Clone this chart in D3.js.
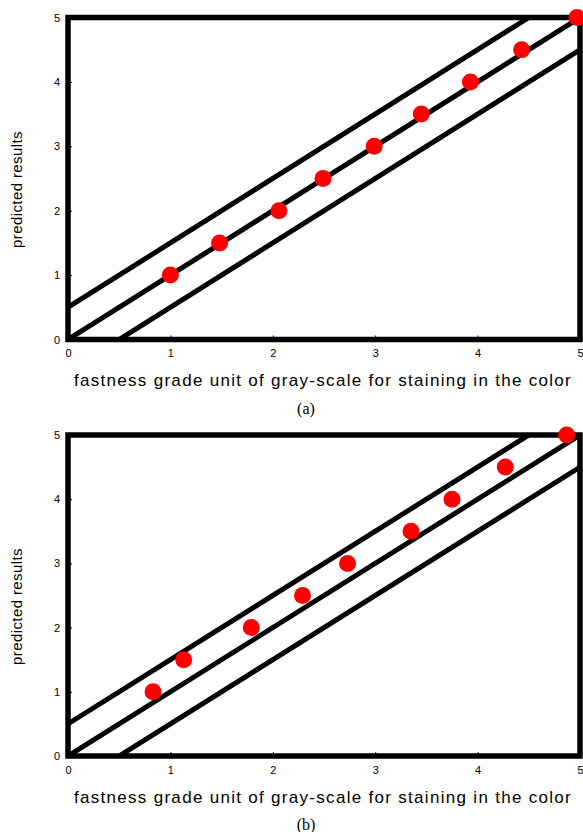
<!DOCTYPE html>
<html>
<head>
<meta charset="utf-8">
<script src="https://cdn.jsdelivr.net/npm/d3@7"></script>
<style>
  body { margin: 0; background: #fff; }
  .tick text { font-family: "Liberation Sans", Arial, sans-serif; font-size: 11px; fill: #000; }
</style>
</head>
<body>
<div id="chart"></div>
<script>
// Data
const measuredA = [1.0, 1.48, 2.06, 2.49, 2.99, 3.45, 3.93, 4.43, 4.97];
const predictedA = [1, 1.5, 2, 2.5, 3, 3.5, 4, 4.5, 5];
const measuredB = [0.83, 1.13, 1.79, 2.29, 2.73, 3.35, 3.75, 4.27, 4.87];
const predictedB = [1, 1.5, 2, 2.5, 3, 3.5, 4, 4.5, 5];
const tickValues = [0, 1, 2, 3, 4, 5];
// reference band: y = x + offset
const bandOffsets = [0.5, 0, -0.5];

const xTitle = "fastness grade unit of gray-scale for staining in the color";
const yTitle = "predicted results";

const width = 583, height = 832;

let svg = d3.select("#chart").append("svg")
    .attr("width", width)
    .attr("height", height)

// Draws one panel; top/bottom are pixel rows of the plot area
function drawPanel(xsData, ysData, top, bottom, caption) {
    let x = d3.scaleLinear().domain([0, 5]).range([68, 580]);
    let y = d3.scaleLinear().domain([0, 5]).range([bottom, top]);

    let g = svg.append("g")

    let clipId = "clip-" + caption.replace(/\W/g, "");
    g.append("clipPath").attr("id", clipId)
        .append("rect")
        .attr("x", x(0)).attr("y", y(5))
        .attr("width", x(5) - x(0)).attr("height", y(0) - y(5))

    // axes with small inward ticks
    g.append("g")
        .attr("transform", `translate(0,${y(0)})`)
        .call(d3.axisBottom(x).tickValues(tickValues).tickSize(-4).tickPadding(10).tickFormat(d3.format("d")))
        .call(a => a.select(".domain").remove())
        .call(a => a.selectAll("line").attr("stroke-width", 1))

    g.append("g")
        .attr("transform", `translate(${x(0)},0)`)
        .call(d3.axisLeft(y).tickValues(tickValues).tickSize(-4).tickPadding(8).tickFormat(d3.format("d")))
        .call(a => a.select(".domain").remove())
        .call(a => a.selectAll("line").attr("stroke-width", 1))

    // band lines
    let line = d3.line().x(d => x(d[0])).y(d => y(d[1]))
    g.append("g")
        .attr("clip-path", `url(#${clipId})`)
        .selectAll("path")
        .data(bandOffsets)
        .enter().append("path")
        .attr("d", off => line([[-1, -1 + off], [6, 6 + off]]))
        .attr("fill", "none")
        .attr("stroke", "#000")
        .attr("stroke-width", 5)

    // frame
    g.append("rect")
        .attr("x", x(0)).attr("y", y(5))
        .attr("width", x(5) - x(0)).attr("height", y(0) - y(5))
        .attr("fill", "none")
        .attr("stroke", "#000")
        .attr("stroke-width", 5.5)

    // points
    g.append("g")
        .selectAll("circle")
        .data(xsData.map((v, i) => [v, ysData[i]]))
        .enter().append("circle")
        .attr("cx", d => x(d[0]))
        .attr("cy", d => y(d[1]))
        .attr("r", 8.5)
        .attr("fill", "#ff0000")

    // titles
    g.append("text")
        .attr("x", 323)
        .attr("y", bottom + 46.5)
        .attr("text-anchor", "middle")
        .attr("font-family", "Liberation Sans, Arial, sans-serif")
        .attr("font-size", "17px")
        .attr("letter-spacing", "1.3px")
        .text(xTitle)

    g.append("text")
        .attr("transform", `translate(22,${(top + bottom) / 2 + 11}) rotate(-90)`)
        .attr("text-anchor", "middle")
        .attr("font-family", "Liberation Sans, Arial, sans-serif")
        .attr("font-size", "15px")
        .attr("letter-spacing", "0.4px")
        .text(yTitle)

    g.append("text")
        .attr("x", 306)
        .attr("y", bottom + 74)
        .attr("text-anchor", "middle")
        .attr("font-family", "Liberation Serif, Times New Roman, serif")
        .attr("font-size", "16px")
        .text(caption)
}

drawPanel(measuredA, predictedA, 17.5, 339.5, "(a)")
drawPanel(measuredB, predictedB, 435, 756, "(b)")
</script>
</body>
</html>
